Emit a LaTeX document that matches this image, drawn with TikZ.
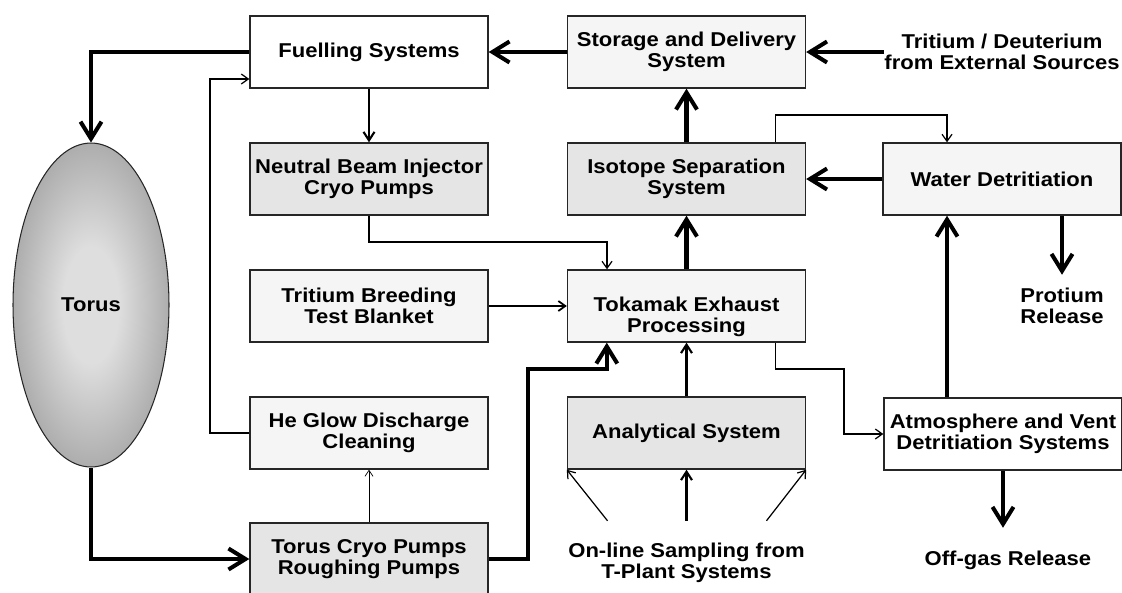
\documentclass[tikz,border=0pt]{standalone}
\usepackage{fontspec}
\setmainfont{Liberation Sans}[FakeStretch=1.1]
\usepackage{tikz}
\usetikzlibrary{arrows.meta, shapes.geometric}
\definecolor{toruslight}{gray}{0.87}
\definecolor{torusmid}{gray}{0.62}
\definecolor{torusdark}{gray}{0.3}
\pgfdeclareradialshading{torusglow}{\pgfpoint{0bp}{0bp}}{color(0bp)=(toruslight); color(9bp)=(toruslight); color(30bp)=(torusmid); color(50bp)=(torusdark)}

\begin{document}
\begin{tikzpicture}[x=0.02cm, y=-0.02cm,
    every node/.style={font=\bfseries\fontsize{11.4}{12}\selectfont},
    box/.style={draw=black!85, line width=0.8pt, minimum width=4.76cm, minimum height=1.44cm, inner sep=0pt, align=center},
    plainbox/.style={box, fill=white},
    lightbox/.style={box, fill=black!4},
    greybox/.style={box, fill=black!10},
    bigarrow/.style={-{Straight Barb[length=0.34cm, width=0.42cm]}, line width=2.3pt},
    medarrow/.style={-{Straight Barb[length=0.17cm, width=0.22cm]}, line width=1.2pt},
    thinarrow/.style={-{Straight Barb[length=0.14cm, width=0.2cm]}, line width=0.7pt},
    hairarrow/.style={-{Straight Barb[length=0.12cm, width=0.16cm]}, line width=0.4pt}]
    \useasboundingbox (0,0) rectangle (1122,592);
    % boxes
    \node[plainbox] (fuel) at (369,52) {Fuelling Systems};
    \node[lightbox] (store) at (686.5,52) {Storage and Delivery\\System};
    \node[align=center, inner sep=0pt] (extsrc) at (1002,52) {Tritium / Deuterium\\from External Sources};
    \node[greybox] (nbi) at (369,179) {Neutral Beam Injector\\Cryo Pumps};
    \node[greybox] (iso) at (686.5,179) {Isotope Separation\\System};
    \node[lightbox] (water) at (1002,179) {Water Detritiation};
    \node[lightbox] (tbtb) at (369,306) {Tritium Breeding\\Test Blanket};
    \node[lightbox] (tep) at (686.5,306) {\rule{0pt}{0.73cm}Tokamak Exhaust\\Processing};
    \node[align=center, inner sep=0pt] (protium) at (1062,306) {Protium\\Release};
    \node[ellipse, draw=black!85, line width=0.6pt, shading=torusglow, minimum width=3.12cm, minimum height=6.48cm, inner sep=0pt] (torus) at (91,305) {Torus};
    \node[lightbox] (heglow) at (369,433) {He Glow Discharge\\Cleaning};
    \node[greybox] (anasys) at (686.5,433) {Analytical System};
    \node[plainbox] (atmos) at (1003,434) {Atmosphere and Vent\\Detritiation Systems};
    \node[greybox] (tcp) at (369,559) {Torus Cryo Pumps\\Roughing Pumps};
    \node[align=center, inner sep=0pt] (sampling) at (686.5,563) {On-line Sampling from\\T-Plant Systems};
    \node[inner sep=0pt] (offgas) at (1008,560) {Off-gas Release};
    % bends
    \coordinate (isobend) at (947,115);
    \coordinate (nbibend) at (607,242);
    \coordinate (tcpbend) at (528,369);
    \coordinate (hebend) at (210,79);
    \coordinate (tepbend) at (844,369);
    % flows
    \draw[bigarrow] (store.west) -- (fuel.east);
    \draw[bigarrow] (extsrc.west) -- (store.east);
    \draw[bigarrow] (fuel.west) -| (torus.north);
    \draw[medarrow] (fuel.south) -- (nbi.north);
    \draw[bigarrow] (iso.north) -- (store.south);
    \draw[bigarrow] (water.west) -- (iso.east);
    \draw[thinarrow] ([xshift=-0.62cm]iso.north east) |- (isobend) -- (isobend |- water.north);
    \draw[bigarrow] (tep.north) -- (iso.south);
    \draw[bigarrow, shorten >=0.26cm] (water.south -| protium.north) -- (protium.north);
    \draw[thinarrow] (nbi.south) |- (nbibend) -- (nbibend |- tep.north);
    \draw[thinarrow, line width=1pt] (tbtb.east) -- (tep.west);
    \draw[medarrow] (anasys.north) -- (tep.south);
    \draw[bigarrow] (tcp.east) -| (tcpbend) -| ([xshift=0.8cm]tep.south west);
    \draw[bigarrow] (torus.south) |- (tcp.west);
    \draw[hairarrow] (tcp.north) -- (heglow.south);
    \draw[thinarrow] (heglow.west) -| (hebend) -- (hebend -| fuel.west);
    \draw[thinarrow] ([xshift=-0.62cm]tep.south east) |- (tepbend) |- (atmos.west);
    \draw[bigarrow] ([xshift=-1.12cm]atmos.north) -- ([xshift=-1.12cm]atmos.north |- water.south);
    \draw[bigarrow] (atmos.south) -- ([yshift=0.45cm]atmos.south |- offgas.north);
    % sampling
    \draw[medarrow] ([yshift=0.44cm]sampling.north) -- (anasys.south);
    \draw[thinarrow] ([shift={(-1.58cm,0.44cm)}]sampling.north) -- (anasys.south west);
    \draw[thinarrow] ([shift={(1.6cm,0.44cm)}]sampling.north) -- (anasys.south east);
\end{tikzpicture}
\end{document}
